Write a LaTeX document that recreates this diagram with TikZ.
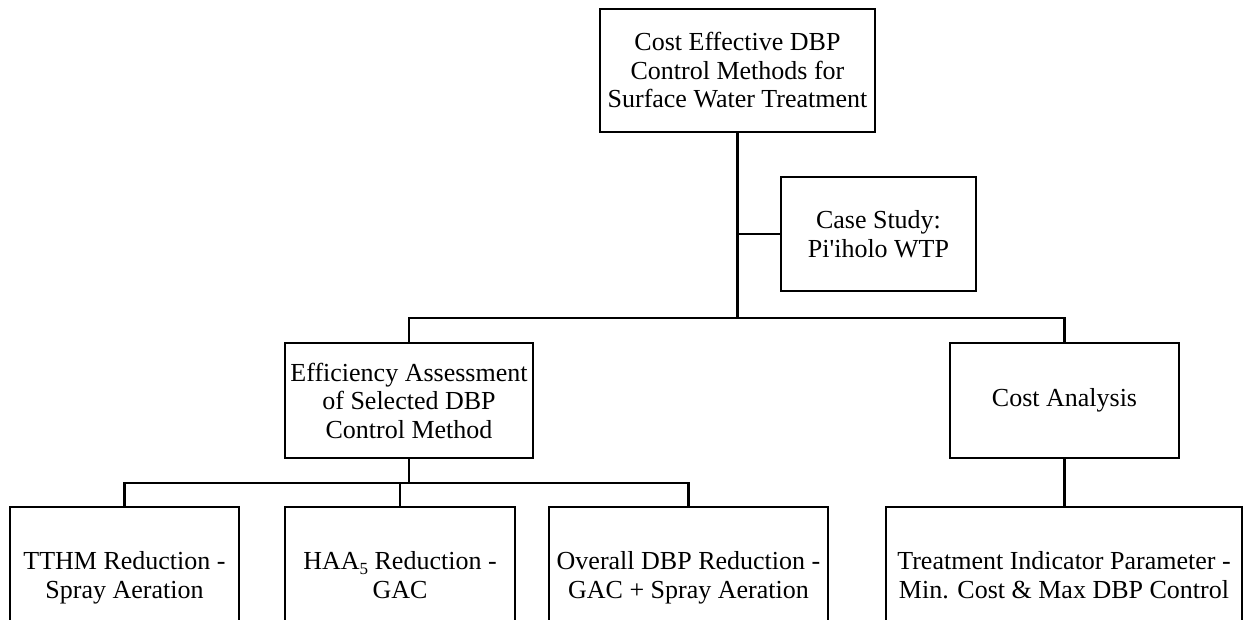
\documentclass[tikz,border=0pt]{standalone}
\usepackage{fontspec}
\setmainfont{Liberation Serif}[Ligatures=TeXOff]
\begin{document}
\begin{tikzpicture}[x=1pt,y=-1pt,
  box/.style={draw,line width=2.6pt,align=center,inner sep=0pt,
    font=\fontsize{26}{28.5}\selectfont},
  conn/.style={line width=2.6pt}]
\useasboundingbox (0,0) rectangle (1243,619);
\node[box,minimum width=275pt,minimum height=123pt] (top) at (737.5,70.5)
  {Cost Effective DBP\\Control Methods for\\Surface Water Treatment};
\node[box,minimum width=195pt,minimum height=114pt] (case) at (878.5,234)
  {Case Study:\\Pi'iholo WTP};
\node[box,minimum width=248pt,minimum height=115pt] (eff) at (409,400.5)
  {Efficiency Assessment\\of Selected DBP\\Control Method};
\node[box,minimum width=229pt,minimum height=115pt] (cost) at (1064.5,400.5)
  {Cost Analysis};
\node[box,minimum width=229pt,minimum height=142pt] (tthm) at (124.5,578)
  {TTHM Reduction -\\Spray Aeration};
\node[box,minimum width=230pt,minimum height=142pt] (haa) at (400,578)
  {HAA\smash{\raisebox{-0.35ex}{\fontsize{17}{17}\selectfont 5}} Reduction -\\GAC\vphantom{y}};
\node[box,minimum width=279pt,minimum height=142pt] (overall) at (688.5,578)
  {Overall DBP Reduction -\\GAC + Spray Aeration};
\node[box,minimum width=356pt,minimum height=142pt] (treat) at (1064,578)
  {Treatment Indicator Parameter -\\Min. Cost \& Max DBP Control\vphantom{y}};
\coordinate (bus1) at (737.5,318);
\coordinate (bus2) at (409,483);
\draw[conn] (top.south) -- (bus1);
\draw[conn] (top.south |- case.west) -- (case.west);
\draw[conn] (eff.north) |- (bus1) -| (cost.north);
\draw[conn] (eff.south) -- (bus2);
\draw[conn] (tthm.north) |- (bus2) -| (overall.north);
\draw[conn] (haa.north) -- (haa.north |- bus2);
\draw[conn] (cost.south) -- (cost.south |- treat.north);
\end{tikzpicture}
\end{document}
